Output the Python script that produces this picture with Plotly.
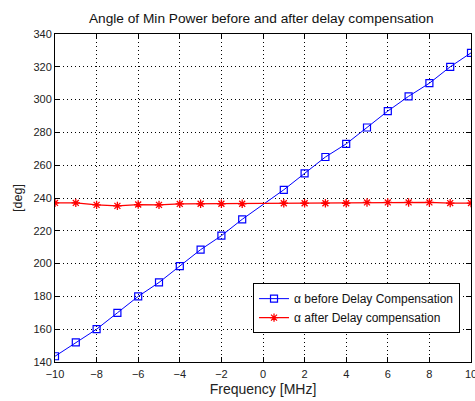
import plotly.graph_objects as go

# Frequencies measured (0 MHz not sampled)
freq_mhz = [-10, -9, -8, -7, -6, -5, -4, -3, -2, -1, 1, 2, 3, 4, 5, 6, 7, 8, 9, 10]

# Angle of minimum power [deg]
angle_before = [143.5, 152, 160, 170, 180, 188.5, 198.5, 208.5, 217, 227,
                245, 255, 265, 273, 283, 293, 302, 310, 320, 328.5]
angle_after = [237, 237, 235.8, 235.2, 236, 235.8, 236.4, 236.5, 236.5, 236.5,
               236.8, 236.8, 236.8, 236.8, 237.3, 237.3, 237.3, 237.3, 236.9, 236.9]

x_ticks = [-10, -8, -6, -4, -2, 0, 2, 4, 6, 8, 10]
y_ticks = [140, 160, 180, 200, 220, 240, 260, 280, 300, 320, 340]

FONT = "Liberation Sans, Arial, sans-serif"

fig = go.Figure()
fig.add_trace(go.Scatter(
    x=freq_mhz, y=angle_before, mode="lines+markers",
    name="α before Delay Compensation",
    line=dict(color="#0000ff", width=1),
    marker=dict(symbol="square-open", size=7, color="#0000ff", line=dict(width=1.2)),
))
fig.add_trace(go.Scatter(
    x=freq_mhz, y=angle_after, mode="lines+markers",
    name="α after Delay compensation",
    line=dict(color="#ff0000", width=1.3),
    marker=dict(symbol="asterisk-open", size=7, color="#ff0000", line=dict(width=1.3, color="#ff0000")),
))

axis_common = dict(
    showline=True, linecolor="#000000", linewidth=1, mirror="ticks",
    ticks="inside", ticklen=5, tickcolor="#000000",
    showgrid=True, gridcolor="#000000", gridwidth=1, griddash="1px,3px",
    zeroline=False, tickfont=dict(family=FONT, size=11, color="#222222"),
    ticklabeloverflow="allow", automargin=False,
)

fig.update_xaxes(range=[-10, 10], tickvals=x_ticks, ticklabelstandoff=2,
                 title=dict(text="Frequency [MHz]", font=dict(family=FONT, size=14, color="#222222"), standoff=4),
                 **axis_common)
fig.update_yaxes(range=[140, 340], tickvals=y_ticks,
                 title=dict(text="[deg]", font=dict(family=FONT, size=12.5, color="#222222"), standoff=8),
                 **axis_common)

fig.update_layout(
    width=475, height=401,
    margin=dict(l=55, r=4, t=34, b=39),
    paper_bgcolor="#ffffff", plot_bgcolor="#ffffff",
    title=dict(text="Angle of Min Power before and after delay compensation",
               font=dict(family=FONT, size=13.7, color="#111111"),
               x=0.55, xanchor="center", y=0.955, yanchor="middle"),
    legend=dict(x=0.9736, y=0.088, xanchor="right", yanchor="bottom",
                bgcolor="#ffffff", bordercolor="#000000", borderwidth=1,
                font=dict(family=FONT, size=12, color="#111111"),
                tracegroupgap=0, itemwidth=30),
    showlegend=True,
)

fig.write_html("out.html")
